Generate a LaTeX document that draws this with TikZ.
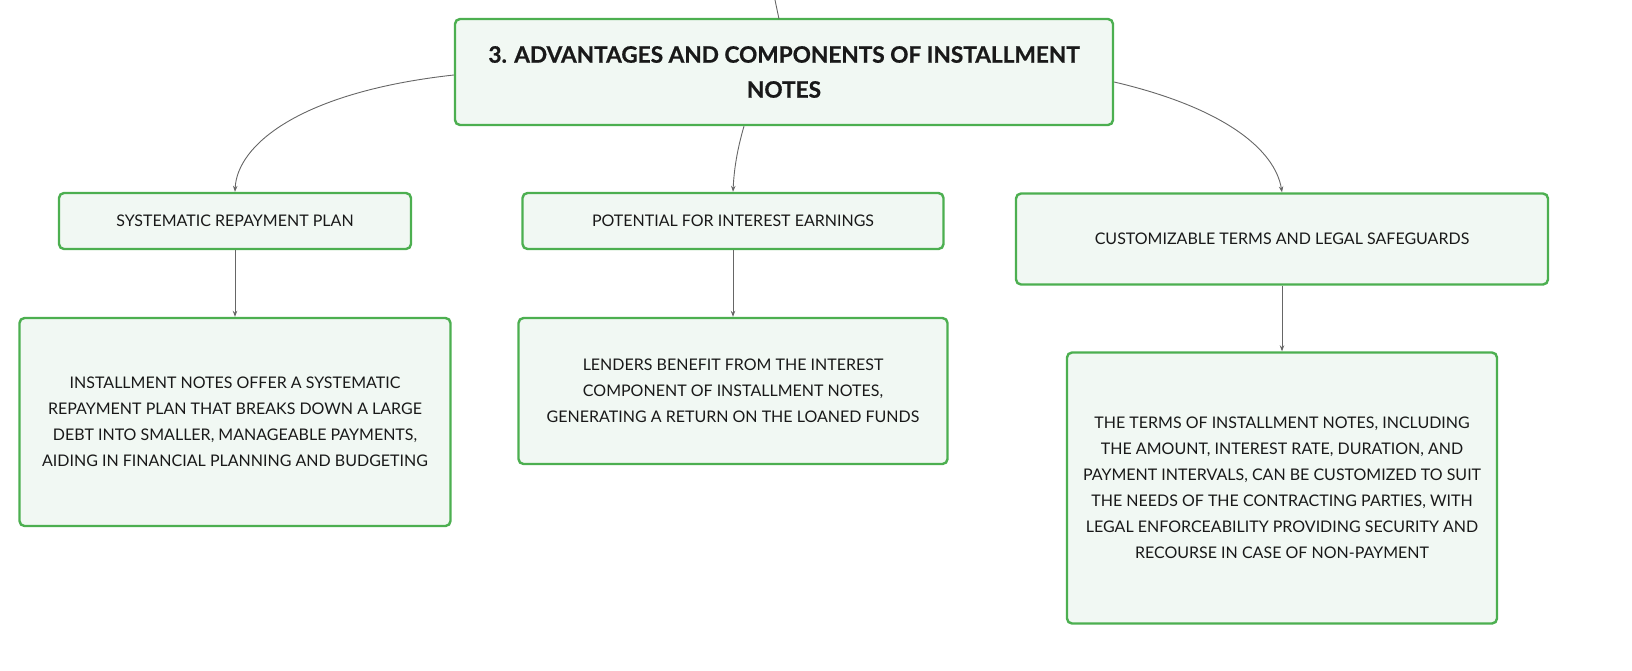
\documentclass[tikz,border=0pt]{standalone}
\usepackage{fontspec}
\setmainfont{Lato}
\usetikzlibrary{arrows.meta,positioning}
\definecolor{boxline}{HTML}{4CAF50}
\definecolor{boxfill}{HTML}{F1F8F3}
\definecolor{linkgray}{HTML}{666666}
\tikzset{
  notebox/.style={draw=boxline,fill=boxfill,line width=2.4pt,rounded corners=5pt,
    align=center,font=\fontsize{16}{26}\selectfont,text=black!90,inner sep=0pt},
  headbox/.style={notebox,font=\bfseries\addfontfeatures{FakeBold=0.8}\fontsize{22.6}{35}\selectfont},
  link/.style={draw=linkgray,line width=0.9pt,-{Stealth[length=6pt,width=4.5pt]}}
}
\begin{document}
\begin{tikzpicture}[x=1pt,y=-1pt]
    \useasboundingbox (0,0) rectangle (1632,670);
    % top box
    \node[headbox,minimum width=658pt,minimum height=106pt] (head) at (784,72)
      {3. ADVANTAGES AND COMPONENTS OF INSTALLMENT\\NOTES};
    \coordinate (up) at (775,0);
    \coordinate (upend) at (779,19);
    \draw[draw=linkgray,line width=0.9pt] (up) -- (upend);
    % second row
    \node[notebox,minimum width=352pt,minimum height=56pt] (plan) at (235,221) {SYSTEMATIC REPAYMENT PLAN};
    \node[notebox,minimum width=421pt,minimum height=56pt] (earn) at (733,221) {POTENTIAL FOR INTEREST EARNINGS};
    \node[notebox,minimum width=532pt,minimum height=91pt] (terms) at (1282,239) {CUSTOMIZABLE TERMS AND LEGAL SAFEGUARDS};
    % third row
    \node[notebox,minimum width=431pt,minimum height=208pt] (plantxt) at (235,422)
      {INSTALLMENT NOTES OFFER A SYSTEMATIC\\REPAYMENT PLAN THAT BREAKS DOWN A LARGE\\DEBT INTO SMALLER, MANAGEABLE PAYMENTS,\\AIDING IN FINANCIAL PLANNING AND BUDGETING};
    \node[notebox,minimum width=429pt,minimum height=146pt] (earntxt) at (733,391)
      {LENDERS BENEFIT FROM THE INTEREST\\COMPONENT OF INSTALLMENT NOTES,\\GENERATING A RETURN ON THE LOANED FUNDS};
    \node[notebox,minimum width=430pt,minimum height=271pt] (termstxt) at (1282,488)
      {THE TERMS OF INSTALLMENT NOTES, INCLUDING\\THE AMOUNT, INTEREST RATE, DURATION, AND\\PAYMENT INTERVALS, CAN BE CUSTOMIZED TO SUIT\\THE NEEDS OF THE CONTRACTING PARTIES, WITH\\LEGAL ENFORCEABILITY PROVIDING SECURITY AND\\RECOURSE IN CASE OF NON-PAYMENT};
    % links
    \draw[link] (head.west) ++(0,3) .. controls (300,92) and (237,145) .. (plan.north);
    \draw[link] (head.south) ++(-40,0) .. controls (737,150) and (734,170) .. (earn.north);
    \draw[link] (head.east) ++(0,10) .. controls (1225,108) and (1275,150) .. (terms.north);
    \draw[link] (plan) -- (plantxt);
    \draw[link] (earn) -- (earntxt);
    \draw[link] (terms) -- (termstxt);
\end{tikzpicture}
\end{document}
